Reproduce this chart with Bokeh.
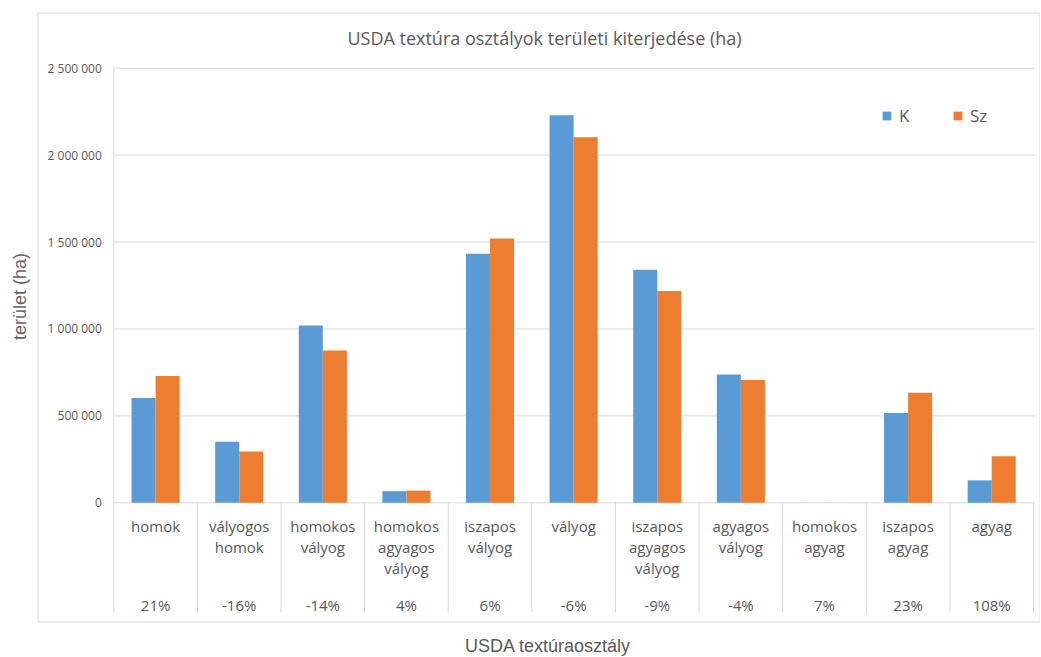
from bokeh.plotting import figure
from bokeh.models import Range1d, Label, ColumnDataSource
from bokeh.transform import dodge
from bokeh.embed import file_html
from bokeh.resources import INLINE
from bokeh.core.properties import value

# ---------------- data ----------------
categories = ["homok", "vályogos\nhomok", "homokos\nvályog", "homokos\nagyagos\nvályog",
              "iszapos\nvályog", "vályog", "iszapos\nagyagos\nvályog", "agyagos\nvályog",
              "homokos\nagyag", "iszapos\nagyag", "agyag"]
k_values = [603000, 351000, 1020000, 67000, 1432000, 2230000, 1340000, 738000, 300, 516000, 129000]
sz_values = [730000, 295000, 876000, 70000, 1520000, 2103000, 1219000, 707000, 321, 633000, 268000]
changes = ["21%", "-16%", "-14%", "4%", "6%", "-6%", "-9%", "-4%", "7%", "23%", "108%"]
y_ticks = [0, 500000, 1000000, 1500000, 2000000, 2500000]
series_names = ["K", "Sz"]
title_text = "USDA textúra osztályok területi kiterjedése (ha)"
x_title = "USDA textúraosztály"
y_title = "terület (ha)"

# ---------------- layout (pixels on canvas) ----------------
W, H = 1040, 656
BOX_L, BOX_T, BOX_R, BOX_B = 37, 12, 1040, 622
PLOT_L, PLOT_R = 113.3, 1033.0
Y0_PX, YTOP_PX = 502.3, 67.7
SEP_B = 612.0

n = len(categories)
cat_px = (PLOT_R - PLOT_L) / n
ppu = (Y0_PX - YTOP_PX) / y_ticks[-1]


def dx(px):
    return (px - PLOT_L) / cat_px


def dy(py):
    return (Y0_PX - py) / ppu


BLUE = "#5B9BD5"
ORANGE = "#ED7D31"
GRID = "#D9D9D9"
TXT = "#595959"
FONT = "Open Sans"

p = figure(width=W, height=H, x_range=Range1d(dx(0), dx(W)), y_range=Range1d(dy(H), dy(0)),
           output_backend="svg", toolbar_location=None,
           x_axis_location=None, y_axis_location=None,
           min_border_left=0, min_border_right=0, min_border_top=0, min_border_bottom=0)
p.grid.visible = False
p.outline_line_color = None
p.background_fill_color = "white"
p.border_fill_color = "white"

# outer chart box
p.quad(left=[dx(BOX_L + 0.5)], right=[dx(BOX_R - 0.5)], top=[dy(BOX_T + 0.5)], bottom=[dy(BOX_B - 0.5)],
       fill_color=None, line_color=GRID, line_width=1)

centers = [i + 0.5 for i in range(n)]
bar_w = 0.2875
src = ColumnDataSource(dict(x=centers, k=k_values, sz=sz_values, cat=categories, chg=changes))

sep_bottom = dy(SEP_B)
# gridlines
p.segment(x0=[0] * len(y_ticks), x1=[n + 0.02] * len(y_ticks), y0=y_ticks, y1=y_ticks,
          line_color=GRID, line_width=1)
# separators
p.segment(x0=[0], x1=[0], y0=[y_ticks[-1]], y1=[sep_bottom], line_color=GRID, line_width=1)
p.segment(x0=list(range(1, n + 1)), x1=list(range(1, n + 1)), y0=[0] * n, y1=[sep_bottom] * n,
          line_color=GRID, line_width=1)

# bars
p.vbar(x=dodge("x", -bar_w / 2, range=p.x_range), top="k", width=bar_w, source=src,
       fill_color=BLUE, line_color=None, legend_label=series_names[0])
p.vbar(x=dodge("x", bar_w / 2, range=p.x_range), top="sz", width=bar_w, source=src,
       fill_color=ORANGE, line_color=None, legend_label=series_names[1])

# y tick labels
tick_labels = [f"{v:,}".replace(",", " ") for v in y_ticks]
p.text(x=[0] * len(y_ticks), y=y_ticks, text=tick_labels, x_offset=-12,
       text_align="right", text_baseline="middle", text_font=value(FONT),
       text_font_size="12px", text_color=TXT)

# category labels
p.text(x="x", y=0, text="cat", source=src, y_offset=13, text_align="center",
       text_baseline="top", text_font=value(FONT), text_font_size="15px",
       text_color=TXT, text_line_height=1.05)
# change labels
p.text(x="x", y=0, text="chg", source=src, y_offset=101.7, text_align="center",
       text_baseline="middle", text_font=value(FONT), text_font_size="15px",
       text_color=TXT)

# title inside box
p.add_layout(Label(x=544, y=H - 37, x_units="screen", y_units="screen", text=title_text,
                   text_align="center", text_baseline="middle", text_font=FONT,
                   text_font_size="18px", text_color=TXT))
# axis titles
p.add_layout(Label(x=547.5, y=H - 645, x_units="screen", y_units="screen", text=x_title,
                   text_align="center", text_baseline="middle", text_font="Liberation Sans",
                   text_font_size="18px", text_color=TXT))
p.add_layout(Label(x=19, y=H - 296, x_units="screen", y_units="screen", text=y_title,
                   angle=1.5707963, text_align="center", text_baseline="middle",
                   text_font="Liberation Sans", text_font_size="18px", text_color="#666666"))

# legend
lg = p.legend[0]
lg.orientation = "horizontal"
lg.location = (881, H - 126.5)
lg.border_line_color = None
lg.background_fill_alpha = 0
lg.padding = 0
lg.margin = 0
lg.glyph_width = 11
lg.glyph_height = 11
lg.label_standoff = 7
lg.label_width = 20
lg.spacing = 33
lg.label_text_font = FONT
lg.label_text_font_size = "17px"
lg.label_text_color = TXT

open("out.html", "w").write(file_html(p, INLINE))
